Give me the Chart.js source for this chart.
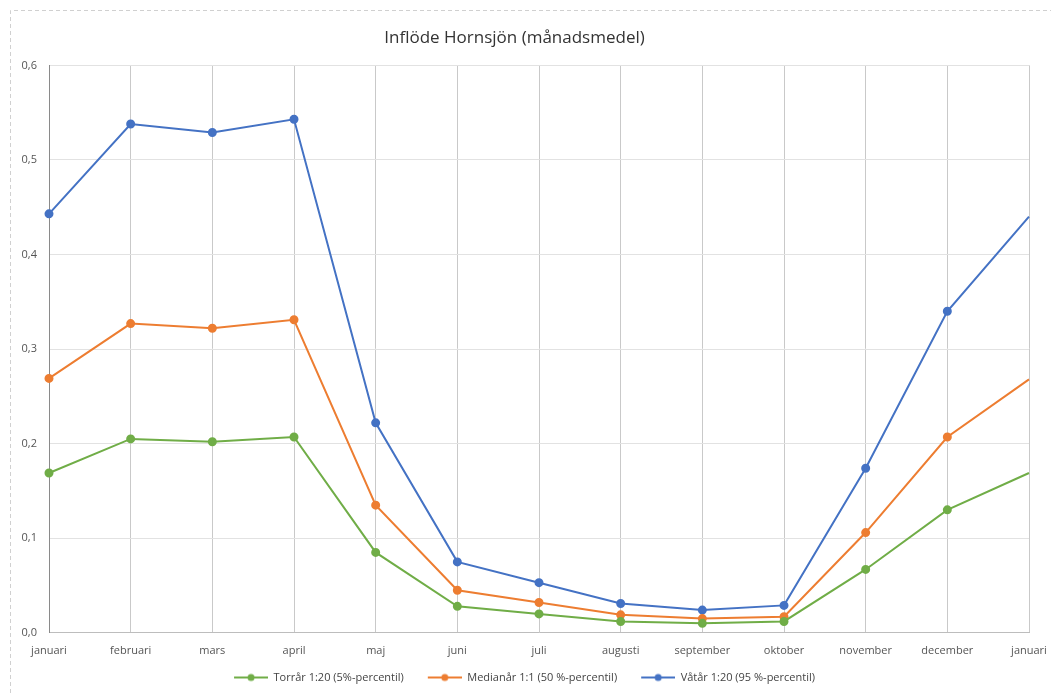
<!DOCTYPE html>
<html>
<head>
<meta charset="utf-8">
<script src="https://cdn.jsdelivr.net/npm/chart.js@4"></script>
<style>
html,body{margin:0;padding:0;background:#fff;}
#wrap{width:1051px;height:693px;position:relative;}
</style>
</head>
<body>
<div id="wrap"><canvas id="c" width="1051" height="693"></canvas></div>
<script>
const months = ["januari","februari","mars","april","maj","juni","juli","augusti","september","oktober","november","december","januari"];
const torrar = [0.169,0.205,0.202,0.207,0.085,0.028,0.020,0.012,0.010,0.012,0.067,0.130,0.169];
const medianar = [0.269,0.327,0.322,0.331,0.135,0.045,0.032,0.019,0.015,0.017,0.106,0.207,0.268];
const vatar = [0.443,0.538,0.529,0.543,0.222,0.075,0.053,0.031,0.024,0.029,0.174,0.340,0.440];
const yTicks = [0,0.1,0.2,0.3,0.4,0.5,0.6];
const seriesNames = ["Torrår 1:20 (5%-percentil)","Medianår 1:1 (50 %-percentil)","Våtår 1:20 (95 %-percentil)"];
const colors = ["#70AD47","#ED7D31","#4472C4"];

function legendIcon(color){
  const cv = document.createElement('canvas');
  cv.width = 54; cv.height = 10;
  const g = cv.getContext('2d');
  g.strokeStyle = color; g.lineWidth = 2;
  g.beginPath(); g.moveTo(20,5); g.lineTo(54,5); g.stroke();
  g.fillStyle = color;
  g.beginPath(); g.arc(37,5,3.5,0,Math.PI*2); g.fill();
  return cv;
}

function ds(label, data, color){
  const radii = data.map((v,i)=> i === data.length-1 ? 0 : 3.5);
  return {
    label, data,
    borderColor: color, backgroundColor: color,
    borderWidth: 2,
    pointRadius: radii, pointHoverRadius: radii,
    pointBackgroundColor: color, pointBorderColor: color,
    pointStyle: 'circle',
    tension: 0
  };
}

const borderPlugin = {
  id: 'outerBorder',
  beforeDraw(chart){
    const ctx = chart.ctx;
    ctx.save();
    ctx.fillStyle = '#fff';
    ctx.fillRect(0,0,chart.width,chart.height);
    ctx.strokeStyle = '#d0d0d0';
    ctx.lineWidth = 1;
    ctx.setLineDash([4,3]);
    ctx.beginPath();
    ctx.moveTo(10.5, chart.height);
    ctx.lineTo(10.5, 10.5);
    ctx.lineTo(chart.width, 10.5);
    ctx.stroke();
    ctx.restore();
  }
};

const datasets = [ds(seriesNames[0], torrar, colors[0]), ds(seriesNames[1], medianar, colors[1]), ds(seriesNames[2], vatar, colors[2])];
const FONT = "'Open Sans', 'Noto Sans', sans-serif";

new Chart(document.getElementById('c'), {
  type: 'line',
  data: { labels: months, datasets },
  plugins: [borderPlugin],
  options: {
    responsive: false,
    animation: false,
    layout: { padding: { left: 0, right: 22, top: 0, bottom: 0 } },
    plugins: {
      title: {
        display: true,
        text: 'Inflöde Hornsjön (månadsmedel)',
        color: '#333',
        font: { family: FONT, size: 17, weight: 'normal' },
        padding: { top: 28, bottom: 17 }
      },
      legend: {
        position: 'bottom',
        labels: {
          color: '#444',
          font: { family: FONT, size: 11 },
          usePointStyle: true,
          pointStyleWidth: 54,
          boxHeight: 10,
          padding: 4,
          generateLabels(chart){
            return chart.data.datasets.map((d,i)=>({
              text: d.label,
              fillStyle: colors[i],
              strokeStyle: colors[i],
              lineWidth: 0,
              pointStyle: legendIcon(colors[i]),
              hidden: false,
              datasetIndex: i,
              fontColor: '#444'
            }));
          }
        }
      },
      tooltip: { enabled: false }
    },
    scales: {
      x: {
        offset: false,
        afterFit(scale){ scale.paddingLeft = 0; scale.paddingRight = 0; },
        grid: { color: '#c9c9c9', drawTicks: false, lineWidth: 1 },
        border: { color: '#bdbdbd' },
        ticks: {
          color: '#555',
          font: { family: FONT, size: 11 },
          padding: 11,
          maxRotation: 0,
          autoSkip: false
        }
      },
      y: {
        min: 0, max: 0.6,
        afterBuildTicks(scale){ scale.ticks = yTicks.map(v=>({value:v})); },
        afterFit(scale){ scale.width = 49; },
        grid: { color: '#e2e2e2', drawTicks: false },
        border: { color: '#8a8a8a' },
        ticks: {
          color: '#555',
          font: { family: FONT, size: 11 },
          padding: 12,
          callback: v => v.toFixed(1).replace('.', ',')
        }
      }
    }
  }
});
</script>
</body>
</html>
